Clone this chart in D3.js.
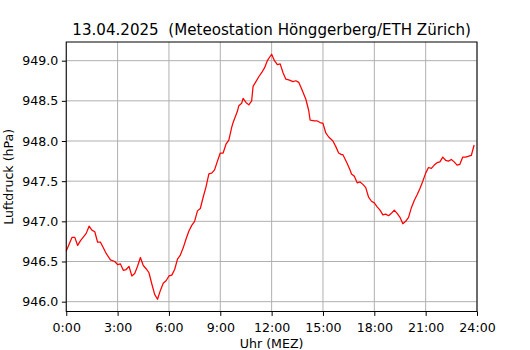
<!DOCTYPE html>
<html>
<head>
<meta charset="utf-8">
<script src="https://cdn.jsdelivr.net/npm/d3@7"></script>
<style>
  body { margin: 0; background: #fff; }
  text { font-family: "DejaVu Sans", sans-serif; fill: #000; }
</style>
</head>
<body>
<script>
// Luftdruck, 13.04.2025, Meteostation Hönggerberg
const times = [
  "0:00","0:20","0:30","0:40","0:50","1:10","1:20","1:30","1:40","1:50",
  "2:00","2:10","2:20","2:35","2:50","3:00","3:10","3:20","3:30","3:40",
  "3:50","4:00","4:10","4:20","4:30","4:40","4:50","5:00","5:10","5:20",
  "5:30","5:40","5:50","6:00","6:10","6:20","6:30","6:40","6:50","7:00",
  "7:10","7:20","7:30","7:40","7:50","8:00","8:10","8:20","8:30","8:40",
  "8:50","9:00","9:10","9:20","9:30","9:40","9:45","10:00","10:05","10:15",
  "10:20","10:30","10:40","10:50","10:55","11:05","11:15","11:25","11:35","11:45",
  "12:00","12:10","12:20","12:30","12:40","12:50","13:00","13:15","13:25","13:35",
  "13:45","14:00","14:10","14:15","14:30","14:40","14:50","15:00","15:10","15:20",
  "15:35","15:45","15:55","16:05","16:10","16:25","16:35","16:40","16:50","17:00",
  "17:10","17:20","17:30","17:40","17:50","18:00","18:10","18:20","18:30","18:40",
  "18:50","19:00","19:10","19:20","19:30","19:40","19:50","20:00","20:10","20:20",
  "20:30","20:40","20:50","21:00","21:10","21:20","21:30","21:40","21:50","22:00",
  "22:10","22:20","22:30","22:40","22:50","23:00","23:10","23:20","23:40","23:50"
];
const pressure = [
  946.63,946.80,946.80,946.70,946.76,946.85,946.94,946.89,946.87,946.74,
  946.74,946.67,946.60,946.52,946.50,946.46,946.47,946.39,946.40,946.44,
  946.32,946.35,946.44,946.55,946.45,946.41,946.36,946.22,946.09,946.03,
  946.14,946.23,946.26,946.32,946.33,946.40,946.53,946.58,946.67,946.78,
  946.88,946.95,947.00,947.13,947.16,947.30,947.43,947.59,947.60,947.64,
  947.75,947.85,947.85,947.96,948.01,948.17,948.23,948.37,948.44,948.47,
  948.53,948.48,948.45,948.50,948.68,948.74,948.80,948.85,948.91,949.00,
  949.08,949.00,948.95,948.96,948.85,948.77,948.76,948.74,948.75,948.73,
  948.65,948.52,948.38,948.26,948.25,948.25,948.23,948.22,948.10,948.05,
  948.00,947.93,947.85,947.83,947.83,947.72,947.64,947.59,947.56,947.48,
  947.49,947.46,947.42,947.30,947.25,947.23,947.18,947.14,947.08,947.09,
  947.07,947.10,947.14,947.10,947.05,946.97,947.00,947.05,947.17,947.26,
  947.33,947.41,947.50,947.60,947.67,947.66,947.70,947.73,947.74,947.80,
  947.76,947.75,947.77,947.74,947.70,947.71,947.80,947.80,947.82,947.95
];
const xTickHours = [0, 3, 6, 9, 12, 15, 18, 21, 24];
const yTicks = [946.0, 946.5, 947.0, 947.5, 948.0, 948.5, 949.0];

const title = "13.04.2025  (Meteostation Hönggerberg/ETH Zürich)";
const xLabel = "Uhr (MEZ)";
const yLabel = "Luftdruck (hPa)";

const W = 530, H = 350;
const margin = { top: 42, right: 53, bottom: 38.5, left: 66.25 };
const innerW = W - margin.left - margin.right;
const innerH = H - margin.top - margin.bottom;
const fontSize = 12.6, titleSize = 15.1;

function toMinutes(s) {
  const p = s.split(":");
  return (+p[0]) * 60 + (+p[1]);
}
const data = times.map((t, i) => ({ m: toMinutes(t), v: pressure[i] }));

const svg = d3.select("body").append("svg")
  .attr("width", W)
  .attr("height", H);

const g = svg.append("g")
  .attr("transform", "translate(" + margin.left + "," + margin.top + ")");

const x = d3.scaleLinear().domain([0, 1440]).range([0, innerW]);
// matplotlib style 5% margin on y
const lo = d3.min(pressure), hi = d3.max(pressure);
const pad = (hi - lo) * 0.05;
const y = d3.scaleLinear().domain([lo - pad, hi + pad]).range([innerH, 0]);

// grid
g.append("g").selectAll("line")
  .data(xTickHours).enter().append("line")
  .attr("x1", d => x(d * 60)).attr("x2", d => x(d * 60))
  .attr("y1", 0).attr("y2", innerH)
  .attr("stroke", "#b0b0b0").attr("stroke-width", 1);
g.append("g").selectAll("line")
  .data(yTicks).enter().append("line")
  .attr("x1", 0).attr("x2", innerW)
  .attr("y1", d => y(d)).attr("y2", d => y(d))
  .attr("stroke", "#b0b0b0").attr("stroke-width", 1);

// line
const line = d3.line().x(d => x(d.m)).y(d => y(d.v));
g.append("path")
  .datum(data)
  .attr("fill", "none")
  .attr("stroke", "#ff0000")
  .attr("stroke-width", 1.25)
  .attr("stroke-linejoin", "round")
  .attr("d", line);

// frame
g.append("rect")
  .attr("width", innerW).attr("height", innerH)
  .attr("fill", "none").attr("stroke", "#000").attr("stroke-width", 1);

// axes
const xAxis = d3.axisBottom(x)
  .tickValues(xTickHours.map(h => h * 60))
  .tickFormat(d => (d / 60) + ":00")
  .tickSize(4.4).tickPadding(7.5);
const yAxis = d3.axisLeft(y)
  .tickValues(yTicks)
  .tickFormat(d3.format(".1f"))
  .tickSize(4.4).tickPadding(3.5);

const gx = g.append("g")
  .attr("transform", "translate(0," + innerH + ")")
  .call(xAxis);
const gy = g.append("g").call(yAxis);

[gx, gy].forEach(a => {
  a.select(".domain").remove();
  a.selectAll(".tick line").attr("stroke", "#000").attr("stroke-width", 1);
  a.selectAll(".tick text")
    .style("font-family", "DejaVu Sans")
    .style("font-size", fontSize + "px")
    .attr("fill", "#000");
});

// titles
svg.append("text")
  .attr("x", margin.left + innerW / 2)
  .attr("y", 34.5)
  .attr("text-anchor", "middle")
  .style("font-size", titleSize + "px")
  .style("white-space", "pre")
  .text(title);

svg.append("text")
  .attr("x", margin.left + innerW / 2)
  .attr("y", 347.5)
  .attr("text-anchor", "middle")
  .style("font-size", fontSize + "px")
  .text(xLabel);

svg.append("text")
  .attr("transform", "translate(12.8," + (margin.top + innerH / 2) + ") rotate(-90)")
  .attr("text-anchor", "middle")
  .style("font-size", fontSize + "px")
  .text(yLabel);
</script>
</body>
</html>
